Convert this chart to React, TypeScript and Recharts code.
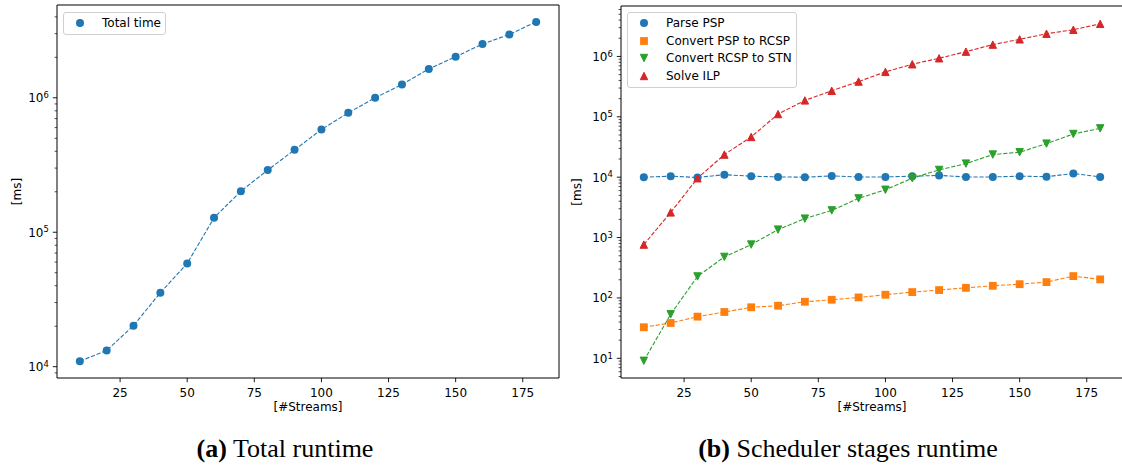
import React from 'react'
import { LineChart, Line, XAxis, YAxis, Legend, ReferenceArea, Customized } from 'recharts'

const streams = [10, 20, 30, 40, 50, 60, 70, 80, 90, 100, 110, 120, 130, 140, 150, 160, 170, 180]

// (a) total runtime [ms]
const totalTime = [
  11000, 13200, 20200, 35500, 58600, 128000, 202000, 290000, 410000, 581000, 773000, 1000000,
  1255000, 1640000, 2020000, 2510000, 2960000, 3670000,
]

// (b) scheduler stages [ms]
const parsePsp = [
  10000, 10400, 9900, 11000, 10400, 10100, 10000, 10500, 10100, 10100, 10400, 10700, 10100, 10100,
  10400, 10200, 11500, 10100,
]
const convertPspToRcsp = [32.7, 38.5, 49, 58.5, 70, 74.3, 86.5, 93.3, 102, 113, 125, 135, 147, 159, 169, 183, 230, 203]
const convertRcspToStn = [
  9.1, 53.6, 227, 479, 766, 1355, 2060, 2820, 4460, 6190, 9630, 13200, 16800, 23700, 25900, 36000,
  52000, 64400,
]
const solveIlp = [
  765, 2610, 9600, 23700, 46400, 111000, 187000, 270000, 384000, 555000, 743000, 933000, 1200000,
  1570000, 1920000, 2380000, 2770000, 3470000,
]

const xTicks = [25, 50, 75, 100, 125, 150, 175]
const xDomain: [number, number] = [1.5, 188.5]
const leftYDomain: [number, number] = [8240, 4.9e6]
const rightYDomain: [number, number] = [4.72, 6.85e6]
const leftDecades = [1e3, 1e4, 1e5, 1e6]
const rightDecades = [1, 10, 100, 1e3, 1e4, 1e5, 1e6]

const BLUE = '#1f77b4'
const ORANGE = '#ff7f0e'
const GREEN = '#2ca02c'
const RED = '#d62728'
const FONT = 'DejaVu Sans'
const FS = 12

const logTicks = (decades: number[], [lo, hi]: [number, number]) => {
  const out: number[] = []
  decades.forEach((d) => {
    for (let k = 1; k <= 9; k++) {
      const v = d * k
      if (v >= lo && v <= hi) out.push(v)
    }
  })
  return out
}

const dataA = streams.map((s, i) => ({ streams: s, total: totalTime[i] }))
const dataB = streams.map((s, i) => ({
  streams: s,
  parse: parsePsp[i],
  pspRcsp: convertPspToRcsp[i],
  rcspStn: convertRcspToStn[i],
  ilp: solveIlp[i],
}))

type Shape = 'circle' | 'square' | 'down' | 'up'

function Marker({ cx, cy, shape, color }: { cx: number; cy: number; shape: Shape; color: string }) {
  if (cx == null || cy == null) return null
  if (shape === 'circle') return <circle cx={cx} cy={cy} r={4} fill={color} />
  if (shape === 'square') return <rect x={cx - 3.9} y={cy - 3.9} width={7.8} height={7.8} fill={color} />
  const s = 3.7
  const pts =
    shape === 'up'
      ? `${cx},${cy - s} ${cx - s},${cy + s} ${cx + s},${cy + s}`
      : `${cx},${cy + s} ${cx - s},${cy - s} ${cx + s},${cy - s}`
  return <polygon points={pts} fill={color} stroke={color} strokeWidth={1} strokeLinejoin="miter" />
}

const makeDot = (shape: Shape, color: string) => (p: any) => (
  <Marker key={`${shape}-${p.index}`} cx={p.cx} cy={p.cy} shape={shape} color={color} />
)

function LogTick(props: any) {
  const { x, y, payload } = props
  const v = payload.value
  const exp = Math.round(Math.log10(v))
  const major = Math.abs(v - Math.pow(10, exp)) < v * 1e-6
  return (
    <g>
      <line x1={x} x2={x - (major ? 4.2 : 2.4)} y1={y} y2={y} stroke="#000" strokeWidth={major ? 0.9 : 0.7} />
      {major && (
        <text x={x - 8.2} y={y + 4.4} textAnchor="end" fontSize={FS} fill="#000" fontFamily={FONT}>
          <tspan>10</tspan>
          <tspan dy={-4.2} fontSize={8.4}>
            {exp}
          </tspan>
        </text>
      )}
    </g>
  )
}

type Item = { name: string; shape: Shape; color: string }

function LegendBox({ items, width }: { items: Item[]; width: number }) {
  return (
    <div
      style={{
        width,
        boxSizing: 'border-box',
        border: '1px solid #d0d0d0',
        borderRadius: 3,
        background: 'rgba(255,255,255,0.8)',
        padding: '1px 0 2px 0',
        fontFamily: FONT,
        fontSize: FS,
        color: '#000',
      }}
    >
      {items.map((it) => (
        <div key={it.name} style={{ display: 'flex', alignItems: 'center', height: 17.7 }}>
          <svg width={14} height={14} style={{ marginLeft: 9 }}>
            <Marker cx={7} cy={7} shape={it.shape} color={it.color} />
          </svg>
          <span style={{ marginLeft: 15, whiteSpace: 'nowrap' }}>{it.name}</span>
        </div>
      ))}
    </div>
  )
}

const itemsA: Item[] = [{ name: 'Total time', shape: 'circle', color: BLUE }]
const itemsB: Item[] = [
  { name: 'Parse PSP', shape: 'circle', color: BLUE },
  { name: 'Convert PSP to RCSP', shape: 'square', color: ORANGE },
  { name: 'Convert RCSP to STN', shape: 'down', color: GREEN },
  { name: 'Solve ILP', shape: 'up', color: RED },
]

const lineProps = {
  type: 'linear' as const,
  strokeWidth: 1.1,
  strokeDasharray: '4.2 1.8',
  activeDot: false as const,
  isAnimationActive: false,
}

function AxisLabels({ xCenter, yCenter }: { xCenter: number; yCenter: number }) {
  return (
    <g fontFamily={FONT} fontSize={FS} fill="#000">
      <text x={xCenter} y={411} textAnchor="middle">
        [#Streams]
      </text>
      <text x={21} y={yCenter} textAnchor="middle" transform={`rotate(-90 21 ${yCenter})`}>
        [ms]
      </text>
    </g>
  )
}

export default function App() {
  return (
    <div
      style={{
        position: 'absolute',
        left: 0,
        top: 0,
        width: 1122,
        height: 465,
        overflow: 'hidden',
        background: '#fff',
        fontFamily: FONT,
      }}
    >
      <div style={{ position: 'absolute', left: 0, top: 0 }}>
        <LineChart width={565} height={420} data={dataA} margin={{ top: 5, right: 6, bottom: 0, left: 0 }}>
          <XAxis
            dataKey="streams"
            type="number"
            domain={xDomain}
            ticks={xTicks}
            height={42}
            tickSize={4.2}
            tickMargin={6}
            tick={{ fontSize: FS, fill: '#000' }}
            tickLine={{ stroke: '#000', strokeWidth: 0.9 }}
            axisLine={false}
            allowDataOverflow
          />
          <YAxis
            type="number"
            scale="log"
            domain={leftYDomain}
            ticks={logTicks(leftDecades, leftYDomain)}
            interval={0}
            width={57}
            tickSize={0}
            tickMargin={0}
            tickLine={false}
            axisLine={false}
            tick={<LogTick />}
            allowDataOverflow
          />
          <ReferenceArea
            x1={xDomain[0]}
            x2={xDomain[1]}
            y1={leftYDomain[0]}
            y2={leftYDomain[1]}
            fill="none"
            stroke="#000"
            strokeWidth={1}
            fillOpacity={0}
          />
          <Line dataKey="total" name="Total time" stroke={BLUE} dot={makeDot('circle', BLUE)} {...lineProps} />
          <Legend
            layout="vertical"
            align="center"
            verticalAlign="middle"
            wrapperStyle={{ left: 63, top: 12, width: 'auto', height: 'auto' }}
            content={() => <LegendBox items={itemsA} width={103} />}
          />
          <Customized component={<AxisLabels xCenter={308} yCenter={191.5} />} />
        </LineChart>
      </div>

      <div style={{ position: 'absolute', left: 560, top: 0 }}>
        <LineChart width={565} height={420} data={dataB} margin={{ top: 6, right: 2, bottom: 0, left: 0 }}>
          <XAxis
            dataKey="streams"
            type="number"
            domain={xDomain}
            ticks={xTicks}
            height={42}
            tickSize={4.2}
            tickMargin={6}
            tick={{ fontSize: FS, fill: '#000' }}
            tickLine={{ stroke: '#000', strokeWidth: 0.9 }}
            axisLine={false}
            allowDataOverflow
          />
          <YAxis
            type="number"
            scale="log"
            domain={rightYDomain}
            ticks={logTicks(rightDecades, rightYDomain)}
            interval={0}
            width={61}
            tickSize={0}
            tickMargin={0}
            tickLine={false}
            axisLine={false}
            tick={<LogTick />}
            allowDataOverflow
          />
          <ReferenceArea
            x1={xDomain[0]}
            x2={xDomain[1]}
            y1={rightYDomain[0]}
            y2={rightYDomain[1]}
            fill="none"
            stroke="#000"
            strokeWidth={1}
            fillOpacity={0}
          />
          <Line dataKey="parse" name="Parse PSP" stroke={BLUE} dot={makeDot('circle', BLUE)} {...lineProps} />
          <Line dataKey="pspRcsp" name="Convert PSP to RCSP" stroke={ORANGE} dot={makeDot('square', ORANGE)} {...lineProps} />
          <Line dataKey="rcspStn" name="Convert RCSP to STN" stroke={GREEN} dot={makeDot('down', GREEN)} {...lineProps} />
          <Line dataKey="ilp" name="Solve ILP" stroke={RED} dot={makeDot('up', RED)} {...lineProps} />
          <Legend
            layout="vertical"
            align="center"
            verticalAlign="middle"
            wrapperStyle={{ left: 67, top: 12, width: 'auto', height: 'auto' }}
            content={() => <LegendBox items={itemsB} width={170} />}
          />
          <Customized component={<AxisLabels xCenter={312} yCenter={192} />} />
        </LineChart>
      </div>

      <svg width={1122} height={465} style={{ position: 'absolute', left: 0, top: 0, pointerEvents: 'none' }}>
        <g fontFamily="Liberation Serif" fontSize={26} fill="#000">
          <text x={285} y={456.5} textAnchor="middle">
            <tspan fontWeight="bold">(a)</tspan> Total runtime
          </text>
          <text x={848} y={456.5} textAnchor="middle">
            <tspan fontWeight="bold">(b)</tspan> Scheduler stages runtime
          </text>
        </g>
      </svg>
    </div>
  )
}
